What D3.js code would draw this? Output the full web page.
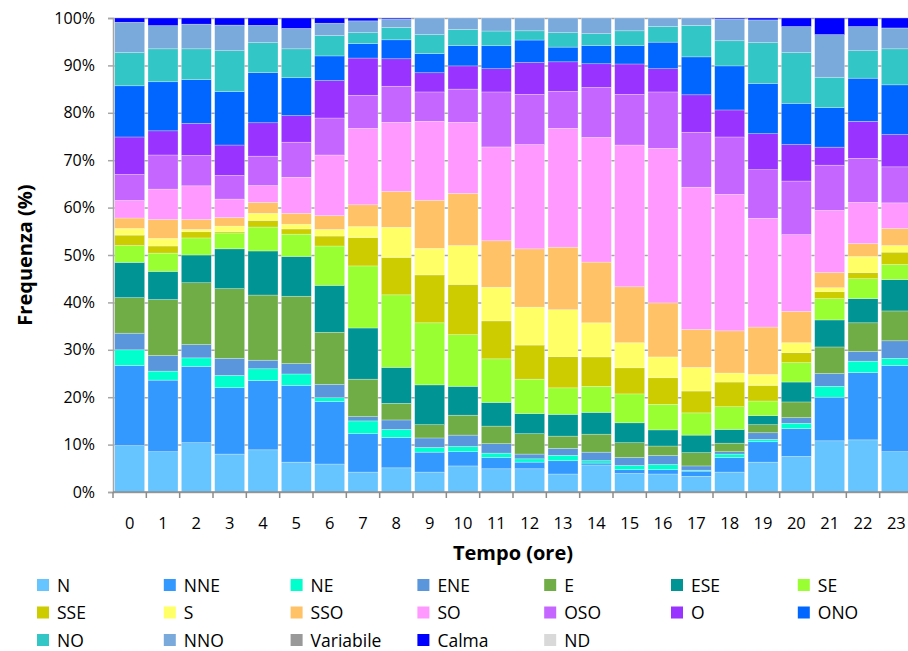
<!DOCTYPE html>
<html>
<head>
<meta charset="utf-8">
<script src="https://cdn.jsdelivr.net/npm/d3@7"></script>
<style>
  body { margin: 0; background: #fff; }
  text { font-family: "Open Sans", "Liberation Sans", sans-serif; }
</style>
</head>
<body>
<script>
// hours on the x axis
var ore = d3.range(24).map(String);

// direction names, bottom of the stack first
var direzioni = ["N", "NNE", "NE", "ENE", "E", "ESE", "SE", "SSE", "S", "SSO", "SO", "OSO", "O", "ONO", "NO", "NNO", "Variabile", "Calma", "ND"];
var colori = ["#66C5FF", "#3399FF", "#00FFCC", "#5A96DC", "#70AD47", "#009494", "#99FF33", "#CCCC00", "#FFFF66", "#FFC266",
              "#FF99FF", "#C466FF", "#9933FF", "#0066FF", "#33C6C6", "#7AAADC", "#999999", "#0000FF", "#D9D9D9"];

// frequency (%) per hour
var N    = [9.8, 8.5, 10.4, 8.0, 8.9, 6.3, 5.9, 4.2, 5.1, 4.2, 5.5, 4.9, 4.9, 3.8, 5.7, 3.9, 3.8, 3.3, 4.2, 6.3, 7.5, 10.8, 11.0, 8.5];
var NNE  = [16.9, 15.1, 16.1, 14.0, 14.6, 16.2, 13.2, 8.1, 6.4, 4.2, 3.0, 2.4, 1.4, 2.8, 0.4, 0.8, 0.9, 1.1, 3.1, 4.3, 5.9, 9.2, 14.2, 18.2];
var NE   = [3.3, 1.9, 1.8, 2.6, 2.5, 2.4, 0.8, 2.7, 1.7, 1.0, 1.1, 0.9, 0.7, 1.15, 0.5, 0.9, 1.1, 0.2, 0.7, 0.5, 1.1, 2.3, 2.4, 1.5];
var ENE  = [3.5, 3.3, 2.8, 3.6, 1.8, 2.2, 2.8, 0.9, 2.0, 2.0, 2.4, 2.0, 1.0, 1.45, 1.8, 1.7, 1.9, 0.9, 0.5, 1.4, 1.2, 2.7, 2.05, 3.7];
var E    = [7.5, 11.8, 13.05, 14.7, 13.75, 14.2, 11.0, 7.9, 3.5, 2.8, 4.2, 3.7, 4.3, 2.6, 3.8, 3.1, 2.0, 2.8, 1.8, 1.7, 3.3, 5.6, 6.05, 6.3];
var ESE  = [7.45, 5.95, 5.85, 8.4, 9.3, 8.4, 9.9, 10.8, 7.6, 8.4, 6.1, 5.0, 4.25, 4.6, 4.6, 4.2, 3.4, 3.7, 2.9, 1.9, 4.2, 5.7, 5.1, 6.6];
var SE   = [3.55, 3.85, 3.6, 3.35, 5.05, 4.7, 8.3, 13.1, 15.3, 13.1, 10.9, 9.2, 7.25, 5.6, 5.5, 6.1, 5.4, 4.7, 4.8, 3.1, 4.1, 4.5, 4.2, 3.2];
var SSE  = [2.2, 1.5, 1.3, 0.25, 1.4, 1.1, 2.1, 6.0, 7.9, 10.1, 10.6, 8.0, 7.2, 6.6, 6.2, 5.5, 5.6, 4.6, 5.2, 3.3, 2.1, 1.45, 1.3, 2.6];
var S    = [1.4, 1.6, 0.5, 1.2, 1.5, 1.0, 1.4, 2.3, 6.35, 5.6, 8.2, 7.1, 8.0, 9.9, 7.2, 5.3, 4.4, 5.0, 1.9, 2.3, 2.1, 0.85, 3.4, 1.4];
var SSO  = [2.2, 4.0, 2.1, 1.8, 2.3, 2.3, 2.9, 4.6, 7.55, 10.15, 11.0, 9.8, 12.3, 13.2, 12.8, 11.8, 11.4, 8.0, 8.9, 10.0, 6.6, 3.2, 2.7, 3.6];
var SO   = [3.7, 6.4, 7.1, 3.9, 3.55, 7.6, 12.8, 16.1, 14.6, 16.65, 15.0, 19.8, 22.0, 25.1, 26.3, 29.9, 32.6, 30.0, 28.8, 22.95, 16.2, 13.1, 8.7, 5.4];
var OSO  = [5.5, 7.2, 6.4, 5.0, 6.2, 7.4, 7.8, 7.0, 7.6, 6.2, 7.0, 11.6, 10.6, 7.8, 10.55, 10.7, 11.9, 11.6, 12.1, 10.25, 11.3, 9.55, 9.3, 7.6];
var O    = [7.9, 5.1, 6.75, 6.4, 7.05, 5.6, 7.9, 7.85, 5.8, 4.05, 4.9, 4.9, 6.7, 6.25, 5.0, 6.4, 4.9, 7.9, 5.7, 7.6, 7.7, 3.8, 7.8, 6.8];
var ONO  = [10.8, 10.35, 9.25, 11.3, 10.6, 8.0, 5.2, 3.05, 4.0, 4.05, 4.3, 4.85, 4.75, 3.1, 3.85, 3.9, 5.6, 8.0, 9.3, 10.6, 8.7, 8.35, 9.1, 10.5];
var NO   = [7.0, 6.95, 6.5, 8.6, 6.3, 6.1, 4.3, 2.3, 2.6, 4.0, 3.4, 3.1, 1.95, 3.05, 2.5, 3.1, 3.3, 6.65, 5.3, 8.6, 10.7, 6.4, 5.8, 7.6];
var NNO  = [6.4, 4.9, 5.2, 5.4, 3.65, 4.3, 2.6, 2.5, 1.8, 3.5, 2.4, 2.75, 2.7, 3.1, 3.3, 2.7, 1.8, 1.55, 4.6, 4.8, 5.5, 9.0, 5.1, 4.4];
var Variabile = d3.range(24).map(() => 0);
var Calma = [0.9, 1.6, 1.3, 1.5, 1.55, 2.2, 1.1, 0.6, 0.2, 0, 0, 0, 0, 0, 0, 0, 0, 0, 0.2, 0.4, 1.8, 3.5, 1.8, 2.1];
var ND    = d3.range(24).map(() => 0);

var serie = [N, NNE, NE, ENE, E, ESE, SE, SSE, S, SSO, SO, OSO, O, ONO, NO, NNO, Variabile, Calma, ND];

// table: one row per hour
var rows = ore.map(function(h, i) {
    var r = {ora: h};
    direzioni.forEach(function(d, j) { r[d] = serie[j][i]; });
    return r;
});

var width = 908, height = 651;
var plotLeft = 113, plotRight = 913, plotTop = 18, plotBottom = 492;

var svg = d3.select("body")
    .append("svg")
    .attr("width", width)
    .attr("height", height);

var x = d3.scaleBand()
    .domain(ore)
    .range([plotLeft, plotRight])
    .paddingInner(0.1)
    .paddingOuter(0.05);

var y = d3.scaleLinear()
    .domain([0, 1])
    .range([plotBottom, plotTop]);

var colore = d3.scaleOrdinal().domain(direzioni).range(colori);

var stack = d3.stack()
    .keys(direzioni)
    .offset(d3.stackOffsetExpand);
var stacked = stack(rows);

var yTicks = d3.range(0, 11).map(i => i / 10);

// grid lines
svg.append("g")
    .attr("transform", "translate(" + plotLeft + ",0)")
    .call(d3.axisLeft(y).tickValues(yTicks).tickSize(-(plotRight - plotLeft)).tickFormat(""))
    .call(g => g.select(".domain").remove())
    .selectAll("line")
    .attr("stroke", "#a6a6a6")
    .attr("stroke-width", 1.5);

// bars
svg.append("g")
    .selectAll("g")
    .data(stacked)
    .enter()
    .append("g")
    .attr("fill", d => colore(d.key))
    .selectAll("rect")
    .data(d => d)
    .enter()
    .append("rect")
    .attr("x", d => x(d.data.ora))
    .attr("width", x.bandwidth())
    .attr("y", d => y(d[1]))
    .attr("height", d => y(d[0]) - y(d[1]))
    .attr("stroke", "#ffffff")
    .attr("stroke-opacity", 0.45)
    .attr("stroke-width", 0.6);

// y axis
var yAxis = svg.append("g")
    .attr("transform", "translate(" + plotLeft + ",0)")
    .call(d3.axisLeft(y).tickValues(yTicks).tickFormat(d3.format(".0%")).tickSize(5).tickPadding(13));
yAxis.selectAll("line").attr("stroke", "#a6a6a6").attr("stroke-width", 1.5);
yAxis.select(".domain").attr("stroke", "#a6a6a6").attr("stroke-width", 1.5);
yAxis.selectAll("text").attr("font-size", "16px").attr("fill", "#000");

// x axis
var xAxis = svg.append("g")
    .attr("transform", "translate(0," + plotBottom + ")")
    .call(d3.axisBottom(x).tickSize(0).tickPadding(25));
xAxis.select(".domain").remove();
xAxis.selectAll("text").attr("font-size", "16.5px").attr("fill", "#000");

xAxis.append("line")
    .attr("x1", plotLeft)
    .attr("x2", plotRight)
    .attr("stroke", "#8c8c8c")
    .attr("stroke-width", 1.5);

// ticks between categories
xAxis.selectAll(".sep")
    .data(d3.range(ore.length + 1))
    .enter()
    .append("line")
    .attr("class", "sep")
    .attr("x1", i => plotLeft + i * x.step())
    .attr("x2", i => plotLeft + i * x.step())
    .attr("y1", 0)
    .attr("y2", 6)
    .attr("stroke", "#8c8c8c")
    .attr("stroke-width", 1.5);

// axis titles
svg.append("text")
    .text("Tempo (ore)")
    .attr("x", 513)
    .attr("y", 560)
    .attr("text-anchor", "middle")
    .attr("font-size", "20px")
    .attr("font-weight", "bold");

svg.append("text")
    .text("Frequenza (%)")
    .attr("transform", "translate(32,255) rotate(-90)")
    .attr("text-anchor", "middle")
    .attr("font-size", "20px")
    .attr("font-weight", "bold");

// legend, 7 columns
var legend = svg.append("g")
    .selectAll("g")
    .data(direzioni)
    .enter()
    .append("g")
    .attr("transform", function(d, i) {
        return "translate(" + (37 + (i % 7) * 126.8) + "," + (579 + Math.floor(i / 7) * 27.5) + ")";
    });

legend.append("rect")
    .attr("width", 12)
    .attr("height", 12)
    .attr("fill", d => colore(d));

legend.append("text")
    .text(d => d)
    .attr("x", 20)
    .attr("y", 12.5)
    .attr("font-size", "17.5px")
    .attr("fill", "#000");
</script>
</body>
</html>
